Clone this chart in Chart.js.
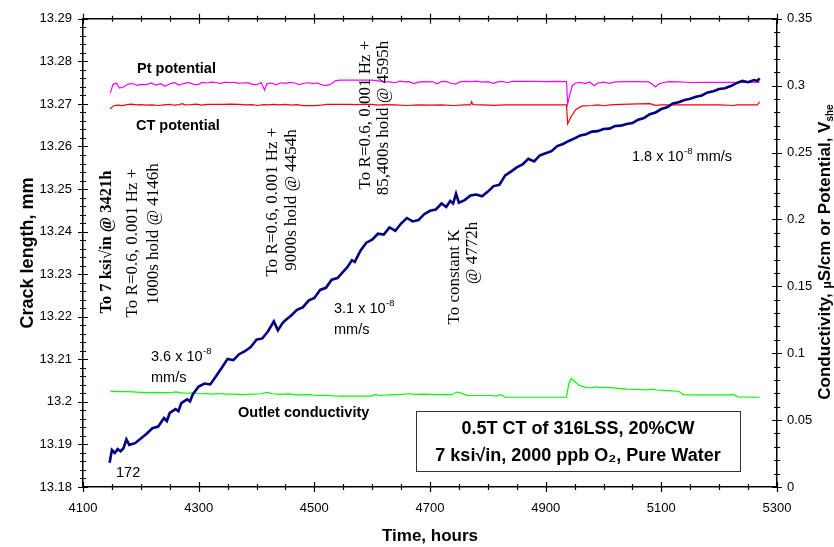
<!DOCTYPE html>
<html>
<head>
<meta charset="utf-8">
<script src="https://cdn.jsdelivr.net/npm/chart.js@4.4.0/dist/chart.umd.min.js"></script>
<style>
  html, body { margin: 0; padding: 0; background: #fff; }
</style>
</head>
<body>
<canvas id="chart" width="834" height="547"></canvas>
<script>
// tick labels
const xTicks = [4100, 4300, 4500, 4700, 4900, 5100, 5300];
const leftTicks = [13.18, 13.19, 13.2, 13.21, 13.22, 13.23, 13.24, 13.25, 13.26, 13.27, 13.28, 13.29];
const rightTicks = [0, 0.05, 0.1, 0.15, 0.2, 0.25, 0.3, 0.35];

// crack length, mm (left axis)
const crackHours = [4146, 4150, 4155, 4160, 4165, 4170, 4175, 4180, 4190, 4200, 4210, 4220, 4230, 4240, 4245, 4250, 4260, 4265, 4270, 4280, 4285, 4290, 4300, 4310, 4320, 4330, 4340, 4350, 4360, 4370, 4380, 4390, 4400, 4410, 4420, 4430, 4437, 4445, 4450, 4460, 4470, 4480, 4490, 4500, 4510, 4520, 4530, 4540, 4550, 4558, 4565, 4570, 4580, 4590, 4600, 4610, 4620, 4630, 4640, 4650, 4660, 4670, 4680, 4690, 4700, 4710, 4720, 4728, 4735, 4740, 4745, 4750, 4760, 4770, 4780, 4790, 4800, 4810, 4820, 4830, 4840, 4850, 4860, 4870, 4880, 4890, 4900, 4910, 4920, 4930, 4940, 4950, 4960, 4970, 4980, 4990, 5000, 5010, 5020, 5030, 5040, 5050, 5060, 5070, 5080, 5090, 5100, 5110, 5120, 5130, 5140, 5150, 5160, 5170, 5180, 5190, 5200, 5210, 5220, 5230, 5240, 5250, 5260, 5266, 5270];
const crackMm = [13.1857, 13.1887, 13.1880, 13.1889, 13.1884, 13.1891, 13.1912, 13.1899, 13.1903, 13.1914, 13.1925, 13.1938, 13.1942, 13.1962, 13.1955, 13.1974, 13.1983, 13.1978, 13.1997, 13.2006, 13.2001, 13.2018, 13.2036, 13.2043, 13.2041, 13.2060, 13.2080, 13.2101, 13.2098, 13.2112, 13.2119, 13.2129, 13.2146, 13.2149, 13.2166, 13.2189, 13.2168, 13.2185, 13.2192, 13.2203, 13.2216, 13.2222, 13.2238, 13.2244, 13.2263, 13.2268, 13.2287, 13.2291, 13.2306, 13.2318, 13.2333, 13.2329, 13.2356, 13.2374, 13.2381, 13.2395, 13.2393, 13.2410, 13.2402, 13.2419, 13.2432, 13.2424, 13.2427, 13.2441, 13.2449, 13.2452, 13.2466, 13.2458, 13.2472, 13.2466, 13.2489, 13.2468, 13.2474, 13.2485, 13.2487, 13.2483, 13.2494, 13.2507, 13.2510, 13.2532, 13.2541, 13.2551, 13.2558, 13.2571, 13.2565, 13.2579, 13.2584, 13.2589, 13.2601, 13.2606, 13.2613, 13.2619, 13.2626, 13.2629, 13.2635, 13.2636, 13.2641, 13.2642, 13.2648, 13.2649, 13.2653, 13.2655, 13.2663, 13.2667, 13.2676, 13.2680, 13.2688, 13.2692, 13.2701, 13.2704, 13.2709, 13.2712, 13.2717, 13.2720, 13.2727, 13.2730, 13.2735, 13.2737, 13.2742, 13.2749, 13.2754, 13.2751, 13.2756, 13.2754, 13.2760];

// Pt potential, V she (right axis)
const ptHours = [4147, 4152, 4158, 4163, 4170, 4178, 4186, 4193, 4200, 4210, 4218, 4226, 4234, 4242, 4250, 4258, 4266, 4274, 4282, 4290, 4298, 4306, 4314, 4322, 4330, 4338, 4346, 4354, 4362, 4370, 4378, 4386, 4394, 4402, 4408, 4414, 4418, 4426, 4434, 4442, 4450, 4458, 4466, 4474, 4482, 4490, 4498, 4506, 4514, 4522, 4530, 4536, 4544, 4560, 4580, 4600, 4610, 4620, 4630, 4640, 4648, 4656, 4664, 4672, 4680, 4688, 4696, 4704, 4712, 4720, 4728, 4736, 4744, 4752, 4760, 4770, 4780, 4790, 4800, 4810, 4818, 4826, 4834, 4842, 4860, 4880, 4900, 4920, 4936, 4938, 4941, 4946, 4952, 4960, 4968, 4976, 4984, 4990, 5000, 5010, 5020, 5040, 5060, 5078, 5084, 5090, 5096, 5104, 5112, 5130, 5150, 5170, 5190, 5210, 5240, 5270];
const ptV = [0.2944, 0.3010, 0.3018, 0.2982, 0.2990, 0.3012, 0.3016, 0.3003, 0.3010, 0.3008, 0.3021, 0.3005, 0.3015, 0.2996, 0.3014, 0.3022, 0.3004, 0.3016, 0.3025, 0.3012, 0.3006, 0.3024, 0.3020, 0.3026, 0.3024, 0.3015, 0.3026, 0.3024, 0.3025, 0.3018, 0.3022, 0.3021, 0.3008, 0.3010, 0.3024, 0.2966, 0.3014, 0.3020, 0.3006, 0.3022, 0.3018, 0.3024, 0.3020, 0.3008, 0.3018, 0.3022, 0.3015, 0.3020, 0.3004, 0.3002, 0.3014, 0.3036, 0.3042, 0.3042, 0.3041, 0.3042, 0.3036, 0.3030, 0.3028, 0.3022, 0.3034, 0.3028, 0.3030, 0.3016, 0.3026, 0.3030, 0.3028, 0.3031, 0.3014, 0.3030, 0.3032, 0.3018, 0.3012, 0.3028, 0.3032, 0.3030, 0.3034, 0.3026, 0.3030, 0.3018, 0.3030, 0.3031, 0.3022, 0.3032, 0.3033, 0.3032, 0.3031, 0.3032, 0.3031, 0.2862, 0.2920, 0.3000, 0.3020, 0.3024, 0.3016, 0.3028, 0.3000, 0.3020, 0.3026, 0.3018, 0.3028, 0.3030, 0.3030, 0.3028, 0.3012, 0.2990, 0.3014, 0.3024, 0.3030, 0.3028, 0.3024, 0.3025, 0.3025, 0.3025, 0.3025, 0.3026];

// CT potential, V she (right axis)
const ctHours = [4147, 4152, 4160, 4168, 4176, 4184, 4192, 4200, 4210, 4220, 4230, 4240, 4250, 4258, 4266, 4272, 4276, 4286, 4296, 4306, 4316, 4326, 4340, 4356, 4370, 4382, 4392, 4402, 4412, 4420, 4430, 4440, 4450, 4460, 4470, 4480, 4500, 4512, 4522, 4540, 4560, 4570, 4580, 4600, 4610, 4620, 4640, 4660, 4680, 4700, 4720, 4740, 4760, 4770, 4772, 4774, 4790, 4810, 4830, 4860, 4900, 4936, 4938, 4944, 4952, 4962, 4980, 4990, 5000, 5012, 5030, 5060, 5080, 5090, 5100, 5130, 5160, 5200, 5225, 5230, 5266, 5270];
const ctV = [0.2827, 0.2848, 0.2855, 0.2851, 0.2858, 0.2862, 0.2856, 0.2858, 0.2854, 0.2857, 0.2852, 0.2856, 0.2860, 0.2854, 0.2859, 0.2865, 0.2856, 0.2858, 0.2862, 0.2855, 0.2860, 0.2861, 0.2861, 0.2862, 0.2860, 0.2856, 0.2858, 0.2852, 0.2858, 0.2856, 0.2860, 0.2856, 0.2860, 0.2855, 0.2858, 0.2851, 0.2851, 0.2855, 0.2861, 0.2861, 0.2860, 0.2858, 0.2861, 0.2860, 0.2854, 0.2858, 0.2856, 0.2852, 0.2856, 0.2854, 0.2856, 0.2852, 0.2857, 0.2857, 0.2880, 0.2858, 0.2856, 0.2853, 0.2857, 0.2857, 0.2857, 0.2857, 0.2716, 0.2768, 0.2820, 0.2847, 0.2852, 0.2856, 0.2850, 0.2856, 0.2860, 0.2864, 0.2866, 0.2853, 0.2857, 0.2856, 0.2856, 0.2857, 0.2852, 0.2857, 0.2856, 0.2880];

// outlet conductivity, uS/cm (right axis)
const condHours = [4147, 4160, 4172, 4186, 4200, 4214, 4226, 4240, 4254, 4262, 4270, 4282, 4292, 4300, 4312, 4324, 4334, 4346, 4360, 4376, 4392, 4408, 4418, 4428, 4440, 4456, 4470, 4490, 4506, 4520, 4534, 4548, 4570, 4598, 4606, 4614, 4630, 4650, 4664, 4676, 4690, 4700, 4716, 4728, 4738, 4746, 4754, 4764, 4786, 4806, 4814, 4822, 4830, 4860, 4900, 4936, 4940, 4944, 4950, 4958, 4970, 4978, 4986, 4992, 5010, 5026, 5040, 5060, 5076, 5084, 5092, 5110, 5130, 5138, 5160, 5190, 5220, 5224, 5232, 5270];
const condUs = [0.0717, 0.0713, 0.0714, 0.0711, 0.0708, 0.0705, 0.0707, 0.0706, 0.0708, 0.0711, 0.0704, 0.0701, 0.0706, 0.0697, 0.0698, 0.0694, 0.0699, 0.0694, 0.0695, 0.0691, 0.0695, 0.0697, 0.0707, 0.0697, 0.0692, 0.0696, 0.0689, 0.0690, 0.0684, 0.0685, 0.0681, 0.0679, 0.0679, 0.0680, 0.0690, 0.0684, 0.0688, 0.0692, 0.0697, 0.0692, 0.0695, 0.0693, 0.0690, 0.0692, 0.0690, 0.0710, 0.0702, 0.0685, 0.0684, 0.0684, 0.0680, 0.0690, 0.0672, 0.0671, 0.0671, 0.0671, 0.0772, 0.0809, 0.0790, 0.0760, 0.0743, 0.0742, 0.0749, 0.0744, 0.0743, 0.0737, 0.0732, 0.0729, 0.0726, 0.0731, 0.0725, 0.0721, 0.0716, 0.0691, 0.0689, 0.0689, 0.0688, 0.0694, 0.0674, 0.0671];

const pairs = (xs, ys) => xs.map((x, i) => ({ x: x, y: ys[i] }));

const SANS = "'Liberation Sans', Arial, sans-serif";
const SERIF = "'Liberation Serif', 'Times New Roman', serif";

// rotated text, reading bottom to top
function vText(ctx, str, x, y, font) {
  ctx.save();
  ctx.translate(x, y);
  ctx.rotate(-Math.PI / 2);
  ctx.font = font;
  ctx.textAlign = 'center';
  ctx.textBaseline = 'middle';
  ctx.fillText(str, 0, 0);
  ctx.restore();
}

// "a x 10^-8" style label
function rateText(ctx, base, x, y, tail) {
  ctx.font = '14.5px ' + SANS;
  ctx.textAlign = 'left';
  ctx.textBaseline = 'middle';
  ctx.fillText(base, x, y);
  let w = ctx.measureText(base).width;
  ctx.font = '9.5px ' + SANS;
  ctx.fillText('-8', x + w + 0.5, y - 6);
  w += ctx.measureText('-8').width + 0.5;
  if (tail) {
    ctx.font = '14.5px ' + SANS;
    ctx.fillText(tail, x + w, y);
  }
}

const decorPlugin = {
  id: 'decor',
  afterDraw(chart) {
    const { ctx, chartArea: a, scales } = chart;
    ctx.save();
    ctx.strokeStyle = '#000';
    ctx.fillStyle = '#000';

    // top frame line
    ctx.lineWidth = 1.5;
    ctx.beginPath();
    ctx.moveTo(a.left, a.top);
    ctx.lineTo(a.right, a.top);
    ctx.stroke();

    // tick marks (major + minor) from the scales
    ctx.lineWidth = 1.2;
    ctx.beginPath();
    for (let v = 4100; v <= 5300; v += 50) {
      const px = Math.round(scales.x.getPixelForValue(v)) + 0.5;
      const major = (v - 4100) % 200 === 0;
      const t = major ? 5 : 3;
      ctx.moveTo(px, a.bottom - t); ctx.lineTo(px, a.bottom + t);
      ctx.moveTo(px, a.top - t); ctx.lineTo(px, a.top + t);
    }
    for (let i = 0; i <= 55; i++) {
      const v = 13.18 + i * 0.002;
      const py = Math.round(scales.y.getPixelForValue(v)) + 0.5;
      const t = i % 5 === 0 ? 5 : 3;
      ctx.moveTo(a.left - t, py); ctx.lineTo(a.left + t, py);
    }
    for (let i = 0; i <= 35; i++) {
      const py = Math.round(scales.y2.getPixelForValue(i * 0.01)) + 0.5;
      const t = i % 5 === 0 ? 5 : 3;
      ctx.moveTo(a.right - t, py); ctx.lineTo(a.right + t, py);
    }
    ctx.stroke();

    // right axis title with subscript
    ctx.save();
    ctx.translate(825, 252);
    ctx.rotate(-Math.PI / 2);
    ctx.textBaseline = 'middle';
    ctx.textAlign = 'left';
    const big = 'bold 17px ' + SANS, small = 'bold 10px ' + SANS;
    const parts = [
      ['Conductivity, ', big, 0],
      ['\u03bc', 'bold 12px ' + SANS, 3],
      ['S/cm or Potential, V', big, 0],
      ['she', small, 5]
    ];
    let total = 0;
    parts.forEach(p => { ctx.font = p[1]; total += ctx.measureText(p[0]).width; });
    let cx = -total / 2;
    parts.forEach(p => { ctx.font = p[1]; ctx.fillText(p[0], cx, p[2]); cx += ctx.measureText(p[0]).width; });
    ctx.restore();

    // series labels
    ctx.textAlign = 'left';
    ctx.textBaseline = 'middle';
    ctx.font = 'bold 14.5px ' + SANS;
    ctx.fillText('Pt potential', 137, 69);
    ctx.fillText('CT potential', 136, 126);
    ctx.fillText('Outlet conductivity', 238, 413);

    // rate annotations
    rateText(ctx, '3.6 x 10', 151, 357);
    ctx.font = '14.5px ' + SANS;
    ctx.fillText('mm/s', 151, 378);
    rateText(ctx, '3.1 x 10', 334, 309);
    ctx.font = '14.5px ' + SANS;
    ctx.fillText('mm/s', 334, 330);
    rateText(ctx, '1.8 x 10', 632, 157, ' mm/s');
    ctx.font = '14.5px ' + SANS;
    ctx.fillText('172', 116, 473);

    // load change annotations
    vText(ctx, 'To 7 ksi\u221ain @ 3421h', 107, 242, 'bold 16.5px ' + SERIF);
    const f = '17px ' + SERIF;
    vText(ctx, 'To R=0.6, 0.001 Hz +', 133, 243, f);
    vText(ctx, '1000s hold @ 4146h', 154, 234, f);
    vText(ctx, 'To R=0.6, 0.001 Hz +', 273, 202, f);
    vText(ctx, '9000s hold @ 4454h', 292, 200, f);
    vText(ctx, 'To R=0.6, 0.001 Hz +', 366, 115, f);
    vText(ctx, '85,400s hold @ 4595h', 384, 118, f);
    vText(ctx, 'To constant K', 455, 277, f);
    vText(ctx, '@ 4772h', 473, 253, f);

    // condition box
    ctx.fillStyle = '#fff';
    ctx.fillRect(416, 411, 324, 60);
    ctx.strokeStyle = '#333';
    ctx.lineWidth = 1;
    ctx.strokeRect(416.5, 411.5, 324, 60);
    ctx.fillStyle = '#000';
    ctx.textAlign = 'center';
    ctx.font = 'bold 18px ' + SANS;
    ctx.fillText('0.5T CT of 316LSS, 20%CW', 578, 429);
    ctx.fillText('7 ksi\u221ain, 2000 ppb O\u2082, Pure Water', 578, 456);

    ctx.restore();
  }
};

const tickFont = { family: SANS, size: 13 };

new Chart(document.getElementById('chart'), {
  type: 'line',
  data: {
    datasets: [
      { label: 'Crack length', data: pairs(crackHours, crackMm), yAxisID: 'y', borderColor: '#000080', borderWidth: 2.6 },
      { label: 'Pt potential', data: pairs(ptHours, ptV), yAxisID: 'y2', borderColor: '#ff00ff', borderWidth: 1.2 },
      { label: 'CT potential', data: pairs(ctHours, ctV), yAxisID: 'y2', borderColor: '#ff0000', borderWidth: 1.2 },
      { label: 'Outlet conductivity', data: pairs(condHours, condUs), yAxisID: 'y2', borderColor: '#00ff00', borderWidth: 1.2 }
    ]
  },
  options: {
    responsive: false,
    animation: false,
    layout: { padding: { top: 17, left: 0, right: 0, bottom: 0 } },
    elements: { point: { radius: 0 }, line: { tension: 0 } },
    plugins: { legend: { display: false }, tooltip: { enabled: false } },
    scales: {
      x: {
        type: 'linear', position: 'bottom', min: 4100, max: 5300,
        afterBuildTicks: s => { s.ticks = xTicks.map(v => ({ value: v })); },
        afterFit: s => { s.height = 60; },
        grid: { display: false, drawTicks: false },
        border: { display: true, color: '#000', width: 1.5 },
        ticks: { padding: 14, color: '#000', font: tickFont, maxRotation: 0, autoSkip: false, callback: v => String(v) },
        title: { display: true, text: 'Time, hours', color: '#000', font: { family: SANS, size: 17, weight: 'bold' }, padding: { top: 0, bottom: 0 } }
      },
      y: {
        type: 'linear', position: 'left', min: 13.18, max: 13.29,
        afterBuildTicks: s => { s.ticks = leftTicks.map(v => ({ value: v })); },
        afterFit: s => { s.width = 83; },
        grid: { display: false, drawTicks: false },
        border: { display: true, color: '#000', width: 1.5 },
        ticks: { padding: 11, color: '#000', font: tickFont, callback: v => String(v) },
        title: { display: true, text: 'Crack length, mm', color: '#000', font: { family: SANS, size: 18, weight: 'bold' }, padding: { top: 17, bottom: 0 } }
      },
      y2: {
        type: 'linear', position: 'right', min: 0, max: 0.35,
        afterBuildTicks: s => { s.ticks = rightTicks.map(v => ({ value: v })); },
        afterFit: s => { s.width = 57; },
        grid: { display: false, drawTicks: false },
        border: { display: true, color: '#000', width: 1.5 },
        ticks: { padding: 10, color: '#000', font: tickFont, callback: v => String(v) }
      }
    }
  },
  plugins: [decorPlugin]
});
</script>
</body>
</html>
